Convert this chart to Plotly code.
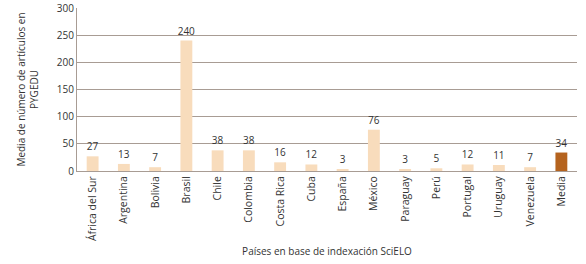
import plotly.graph_objects as go

countries = ["África del Sur", "Argentina", "Bolivia", "Brasil", "Chile", "Colombia",
             "Costa Rica", "Cuba", "España", "México", "Paraguay", "Perú",
             "Portugal", "Uruguay", "Venezuela", "Media"]
values = [27, 13, 7, 240, 38, 38, 16, 12, 3, 76, 3, 5, 12, 11, 7, 34]

light = "#F8DCBC"
dark = "#B5631E"
colors = [dark if c == "Media" else light for c in countries]

font_family = "Open Sans, Noto Sans, sans-serif"

fig = go.Figure(go.Bar(
    x=countries, y=values,
    marker=dict(color=colors, line=dict(width=0)),
    text=[str(v) for v in values],
    textposition="outside",
    constraintext="none",
    textfont=dict(size=10, color="#333333"),
    cliponaxis=False,
    width=0.38,
))

fig.update_layout(
    width=586, height=264,
    margin=dict(l=77, r=9, t=8, b=93, autoexpand=False),
    plot_bgcolor="white", paper_bgcolor="white",
    font=dict(family=font_family, size=10, color="#333333"),
    showlegend=False,
    xaxis=dict(
        tickangle=-90, automargin=False,
        showline=True, linecolor="#A89C94", linewidth=1,
        ticks="", showgrid=False,
        tickfont=dict(size=10.5),
        title=dict(text="Países en base de indexación SciELO", font=dict(size=10), standoff=7),
    ),
    yaxis=dict(
        range=[0, 300], dtick=50, automargin=False,
        showgrid=True, gridcolor="#A89C94", gridwidth=1,
        showline=True, linecolor="#A89C94", linewidth=1,
        zeroline=False, ticks="",
        tickfont=dict(size=10),
        title=dict(text="Media de número de artículos en<br>PYGEDU", font=dict(size=10), standoff=16),
    ),
)

fig.write_html("out.html", config={"displayModeBar": False},
               post_script="document.body.style.margin='0';")
